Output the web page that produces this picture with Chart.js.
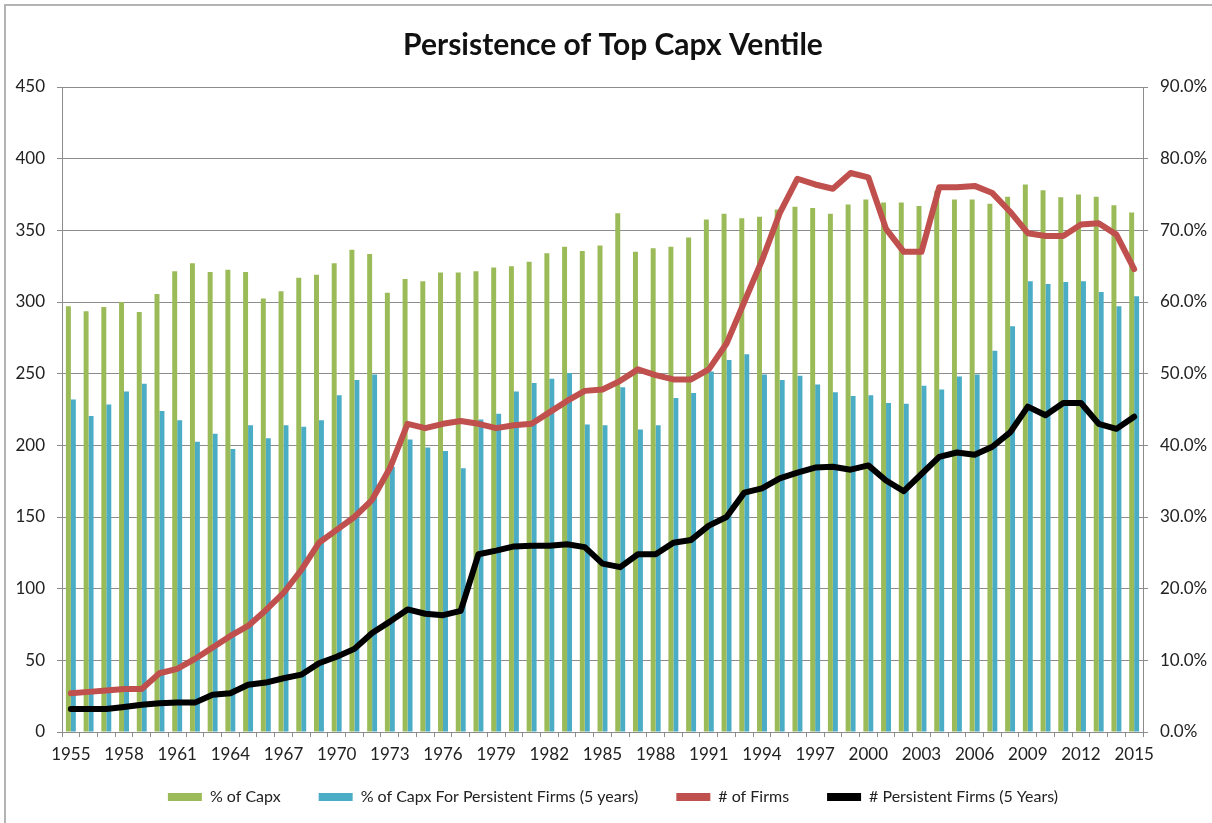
<!DOCTYPE html>
<html>
<head>
<meta charset="utf-8">
<script src="https://cdn.jsdelivr.net/npm/chart.js@4.4.1/dist/chart.umd.min.js"></script>
<style>
  html, body { margin: 0; padding: 0; background: #fff; }
  #wrap { position: relative; width: 1212px; height: 823px; overflow: hidden; }
  #frame { position: absolute; left: 4px; top: 4px; width: 1230px; height: 840px; border: 2px solid #b4b4b4; box-sizing: border-box; }
  canvas { position: absolute; left: 0; top: 0; }
</style>
</head>
<body>
<div id="wrap">
  <div id="frame"></div>
  <canvas id="chart" width="1212" height="823"></canvas>
</div>
<script>
// years on the category axis
const years = []
for (let y = 1955; y <= 2015; y++) years.push(String(y))

// % of Capx (right axis, percent)
const capxPct = [
  59.4, 58.7, 59.3, 60.0, 58.6, 61.1, 64.3, 65.4, 64.2, 64.5,
  64.2, 60.5, 61.5, 63.4, 63.8, 65.4, 67.3, 66.7, 61.3, 63.2,
  62.9, 64.1, 64.1, 64.3, 64.8, 65.0, 65.6, 66.8, 67.7, 67.1,
  67.9, 72.4, 67.0, 67.5, 67.7, 69.0, 71.5, 72.3, 71.7, 71.9,
  72.9, 73.3, 73.1, 72.3, 73.6, 74.3, 73.9, 73.9, 73.4, 75.5,
  74.3, 74.3, 73.7, 74.7, 76.4, 75.6, 74.6, 75.0, 74.7, 73.5,
  72.5
]

// % of Capx for persistent firms (right axis, percent)
const persistCapxPct = [
  46.4, 44.1, 45.7, 47.5, 48.6, 44.8, 43.5, 40.5, 41.6, 39.5,
  42.8, 41.0, 42.8, 42.6, 43.5, 47.0, 49.1, 49.9, 37.0, 40.8,
  39.7, 39.2, 36.8, 43.6, 44.4, 47.5, 48.7, 49.3, 50.1, 42.9,
  42.8, 48.1, 42.2, 42.8, 46.6, 47.3, 50.3, 51.9, 52.7, 49.9,
  49.1, 49.7, 48.5, 47.4, 46.9, 47.0, 45.9, 45.8, 48.3, 47.8,
  49.6, 49.9, 53.2, 56.6, 62.9, 62.5, 62.8, 62.9, 61.4, 59.4,
  60.8
]

// # of firms (left axis)
const numFirms = [
  27, 28, 29, 30, 30, 41, 44, 51, 59, 67,
  74, 85, 97, 113, 132, 141, 150, 162, 184, 215,
  212, 215, 217, 215, 212, 214, 215, 223, 231, 238,
  239, 245, 253, 249, 246, 246, 253, 271, 300, 329,
  362, 386, 382, 379, 390, 387, 351, 335, 335, 380,
  380, 381, 376, 363, 348, 346, 346, 354, 355, 347,
  323
]

// # persistent firms, 5 years (left axis)
const persistFirms = [
  16, 16, 16, 17.5, 19, 20, 20.5, 20.5, 26, 27,
  33, 34.5, 37.5, 40, 48, 52.5, 58, 69, 77, 85.5,
  82.5, 81.5, 84.5, 124, 126.5, 129.5, 130, 130, 131, 129,
  117.5, 115, 124, 124, 132, 134, 144, 150, 167, 170,
  177, 181, 184.5, 185, 183, 186, 175.5, 168, 180, 192,
  195, 193.5, 199, 209, 227, 221, 229.5, 229.5, 215, 211.5,
  220
]

const leftTicks = [0, 50, 100, 150, 200, 250, 300, 350, 400, 450]
const rightTicks = [0, 10, 20, 30, 40, 50, 60, 70, 80, 90]

const gridGrey = '#8c8c8c'
const textColor = '#222'
const font = 'Lato'

// legend padding also sets the gap between items, so lift the box top afterwards
const liftLegend = {
  id: 'liftLegend',
  afterLayout(chart) {
    chart.legend.top -= 26
  }
}

const ctx = document.getElementById('chart').getContext('2d')

new Chart(ctx, {
  type: 'bar',
  plugins: [liftLegend],
  data: {
    labels: years,
    datasets: [
      {
        label: '% of Capx',
        data: capxPct,
        backgroundColor: '#9bbb59',
        yAxisID: 'y1',
        categoryPercentage: 0.56,
        barPercentage: 1.0,
        order: 1
      },
      {
        label: '% of Capx For Persistent Firms (5 years)',
        data: persistCapxPct,
        backgroundColor: '#4bacc6',
        yAxisID: 'y1',
        categoryPercentage: 0.56,
        barPercentage: 1.0,
        order: 1
      },
      {
        type: 'line',
        label: '# of Firms',
        data: numFirms,
        borderColor: '#c0504d',
        backgroundColor: '#c0504d',
        borderWidth: 6,
        pointRadius: 0,
        tension: 0,
        borderJoinStyle: 'round',
        borderCapStyle: 'round',
        yAxisID: 'y',
        order: 0
      },
      {
        type: 'line',
        label: '# Persistent Firms (5 Years)',
        data: persistFirms,
        borderColor: '#000000',
        backgroundColor: '#000000',
        borderWidth: 6,
        pointRadius: 0,
        tension: 0,
        borderJoinStyle: 'round',
        borderCapStyle: 'round',
        yAxisID: 'y',
        order: 0
      }
    ]
  },
  options: {
    responsive: false,
    animation: false,
    devicePixelRatio: 1,
    layout: {
      padding: { left: 14, right: 0, top: 0, bottom: 0 }
    },
    plugins: {
      title: {
        display: true,
        text: 'Persistence of Top Capx Ventile',
        color: '#111',
        font: { family: font, size: 30, weight: 'bold' },
        padding: { top: 27, bottom: 24 }
      },
      legend: {
        position: 'bottom',
        maxHeight: 46,
        labels: {
          color: textColor,
          font: { family: font, size: 16 },
          boxWidth: 34,
          boxHeight: 8,
          padding: 38,
          sort: (a, b) => a.datasetIndex - b.datasetIndex,
          generateLabels: function(chart) {
            const items = Chart.defaults.plugins.legend.labels.generateLabels(chart)
            items.forEach(item => {
              const ds = chart.data.datasets[item.datasetIndex]
              item.fillStyle = ds.type === 'line' ? ds.borderColor : ds.backgroundColor
              item.lineWidth = 0
              item.strokeStyle = 'rgba(0,0,0,0)'
            })
            return items
          }
        }
      },
      tooltip: { enabled: false }
    },
    scales: {
      x: {
        offset: true,
        afterFit: scale => { scale.height = 45 },
        grid: {
          offset: true,
          drawOnChartArea: false,
          drawTicks: true,
          tickLength: 5,
          color: gridGrey
        },
        border: { color: gridGrey },
        ticks: {
          autoSkip: false,
          maxRotation: 0,
          padding: 7,
          color: textColor,
          font: { family: font, size: 17 },
          callback: function(value, index) {
            return index % 3 === 0 ? years[index] : ''
          }
        }
      },
      y: {
        position: 'left',
        min: 0,
        max: leftTicks[leftTicks.length - 1],
        afterFit: scale => { scale.width = 48 },
        afterBuildTicks: scale => { scale.ticks = leftTicks.map(v => ({ value: v })) },
        grid: {
          color: gridGrey,
          tickLength: 5
        },
        border: { color: gridGrey },
        ticks: {
          padding: 12,
          color: textColor,
          font: { family: font, size: 17 }
        }
      },
      y1: {
        position: 'right',
        min: 0,
        max: rightTicks[rightTicks.length - 1],
        afterFit: scale => { scale.width = 69 },
        afterBuildTicks: scale => { scale.ticks = rightTicks.map(v => ({ value: v })) },
        grid: {
          drawOnChartArea: false,
          color: gridGrey,
          tickLength: 5
        },
        border: { color: gridGrey },
        ticks: {
          padding: 12,
          color: textColor,
          font: { family: font, size: 17 },
          callback: v => v.toFixed(1) + '%'
        }
      }
    }
  }
})
</script>
</body>
</html>
